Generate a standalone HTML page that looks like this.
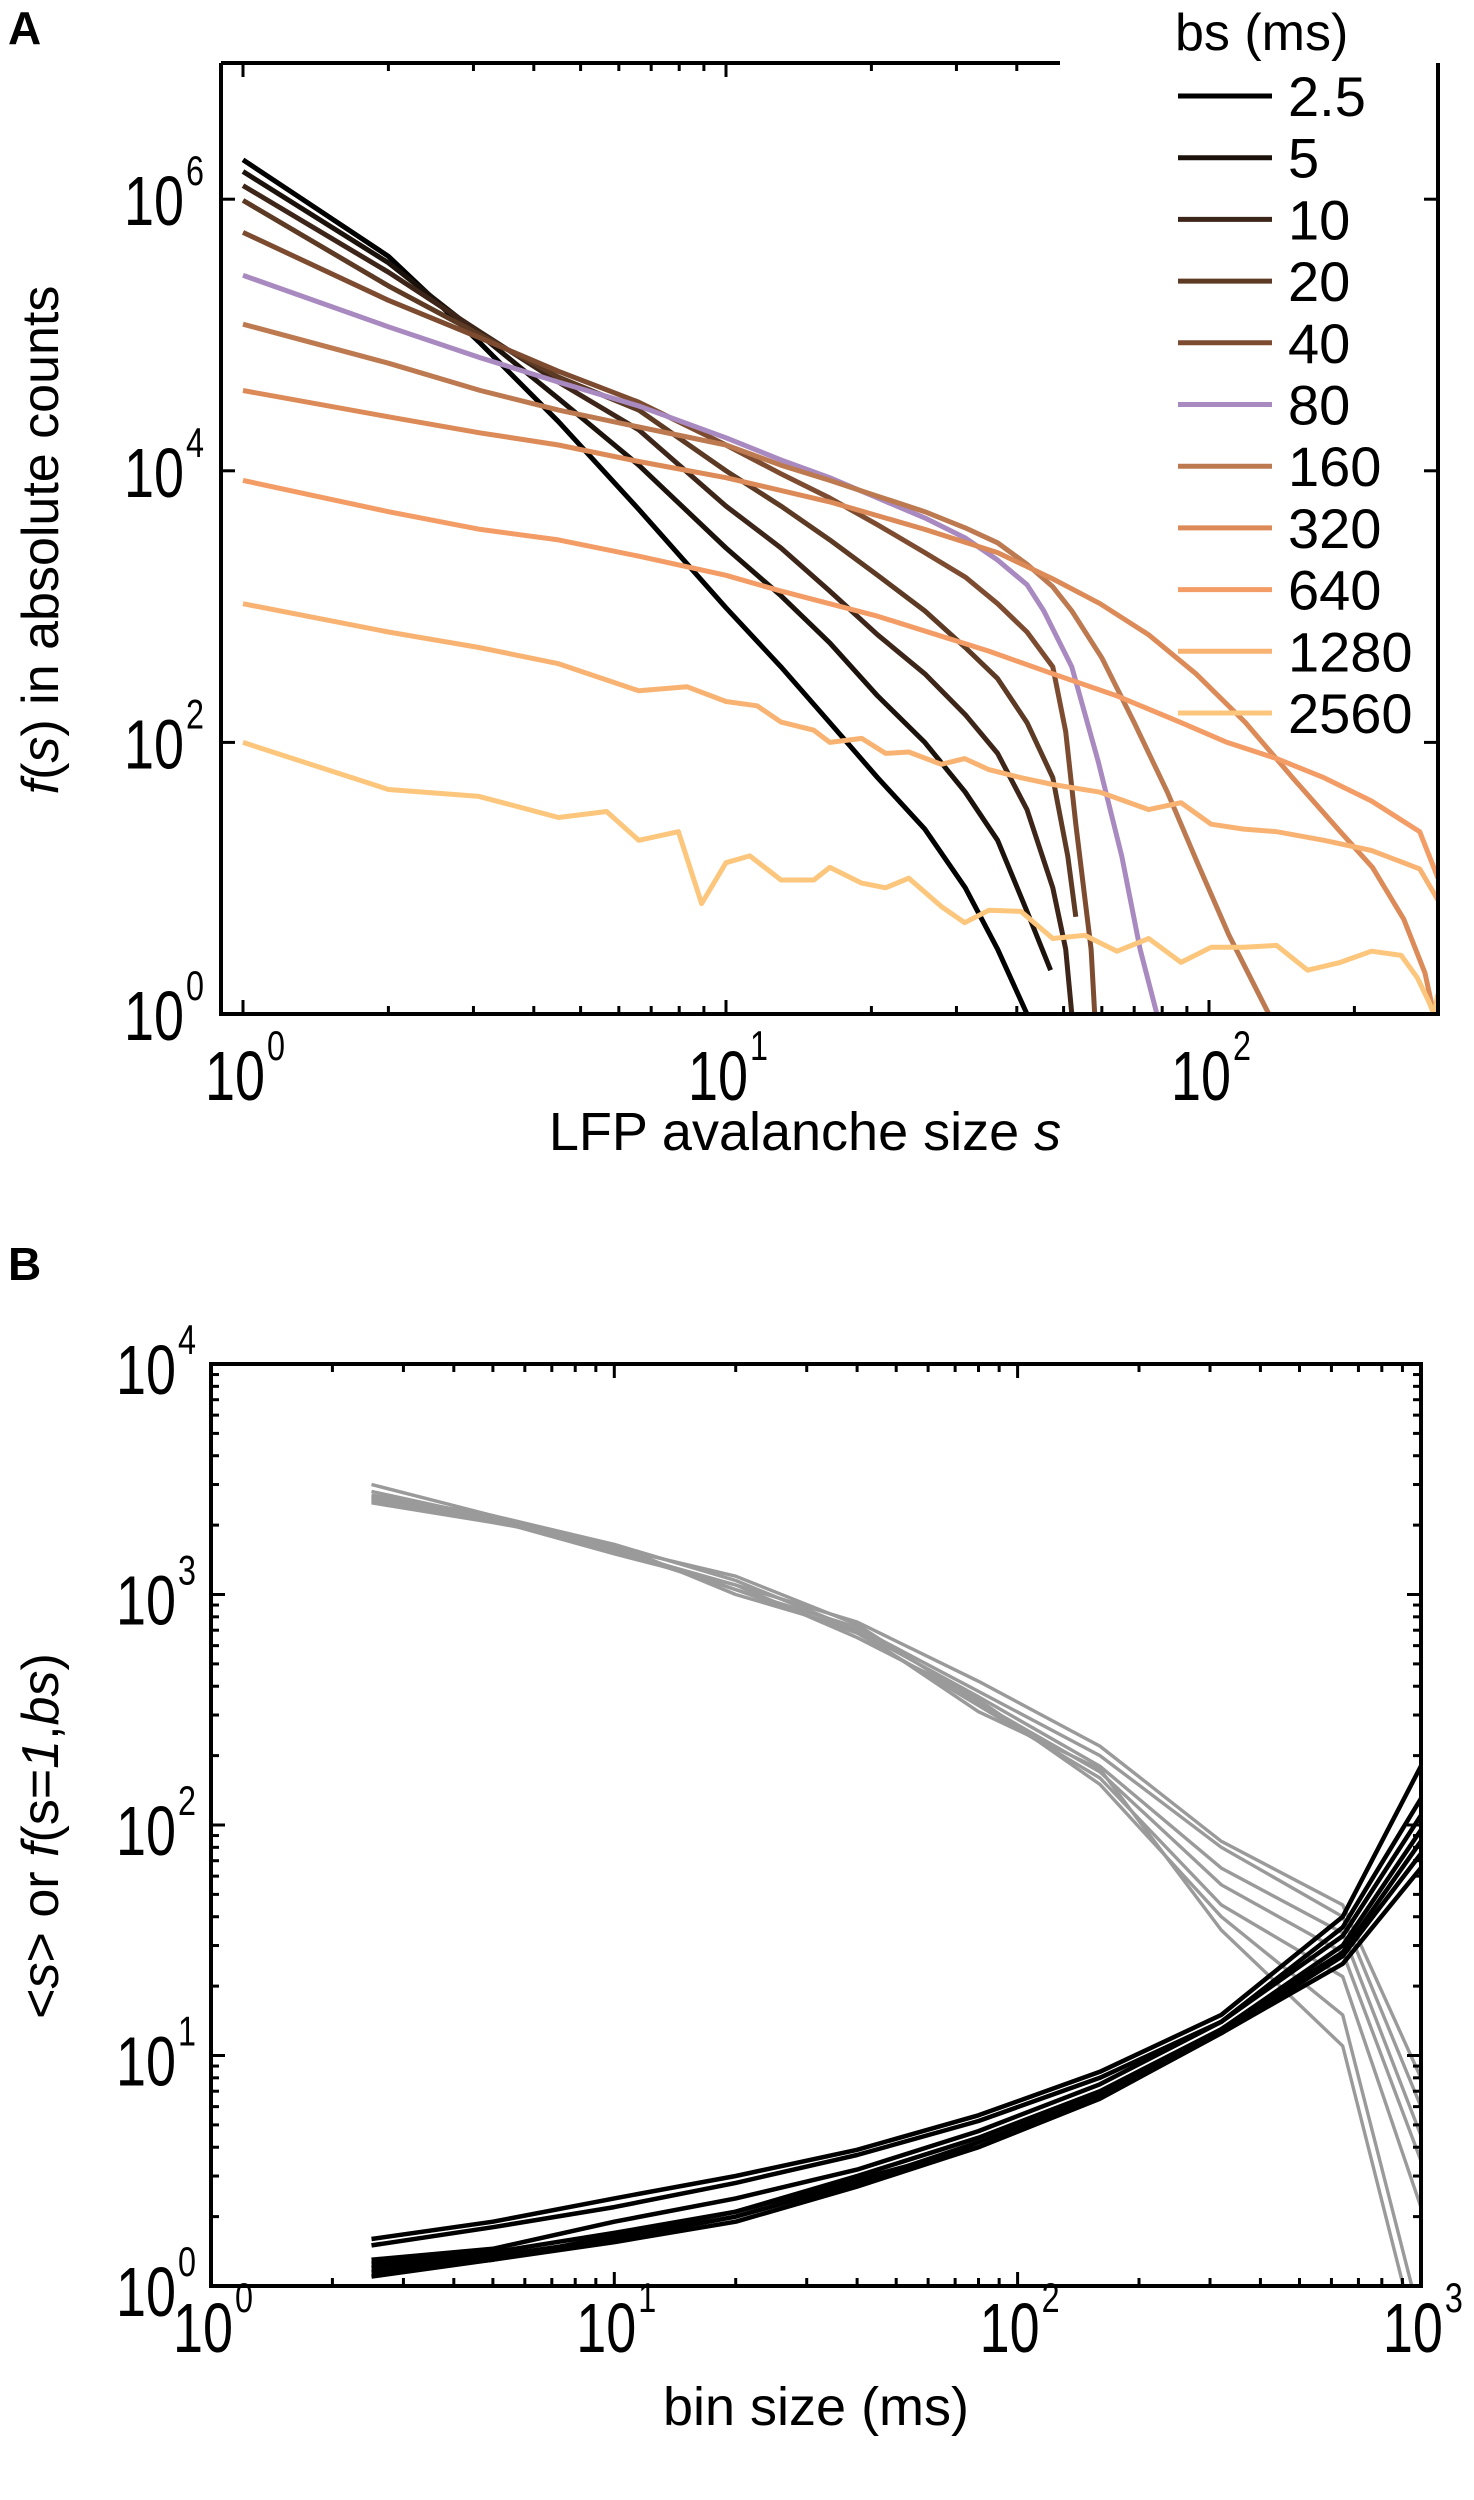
<!DOCTYPE html>
<html><head><meta charset="utf-8">
<style>
html,body{margin:0;padding:0;background:#fff;}
svg{display:block;font-family:"Liberation Sans",Arial,sans-serif;}
</style></head>
<body>
<svg id="fig" width="1474" height="2500" viewBox="0 0 1474 2500" xmlns="http://www.w3.org/2000/svg">
<defs>
<clipPath id="clipA"><rect x="221" y="63" width="1217" height="951"/></clipPath>
<clipPath id="clipB"><rect x="211" y="1364" width="1210" height="922"/></clipPath>
</defs>
<text x="8" y="44" font-size="46" font-weight="bold">A</text>
<text x="8" y="1280" font-size="46" font-weight="bold">B</text>
<g id="panelA"></g>
<g id="panelB"></g>
<text transform="translate(58,540) rotate(-90)" text-anchor="middle" font-size="52"><tspan font-style="italic">f</tspan>(<tspan font-style="italic">s</tspan>) in absolute counts</text>
<text x="805" y="1150" text-anchor="middle" font-size="54">LFP avalanche size <tspan font-style="italic">s</tspan></text>
<text transform="translate(58,1836) rotate(-90)" text-anchor="middle" font-size="52">&lt;<tspan font-style="italic">s</tspan>&gt; or <tspan font-style="italic">f</tspan>(s=<tspan font-style="italic">1</tspan>,<tspan font-style="italic">bs</tspan>)</text>
<text x="816" y="2425" text-anchor="middle" font-size="54">bin size (ms)</text>
</svg>
<script>
// ---------- Panel A data ----------
const binLabels = ["2.5","5","10","20","40","80","160","320","640","1280","2560"];
const seriesColors = ["#000000","#1c120c","#3d2619","#5c3a24","#7d4c30","#a889c0","#bd7a50","#dc8a57","#f39c65","#f8b373","#fcc67c"];
const sA_2_5 = [1,2,3.1,4.5,6.6,10,13,16.4,20.6,25.8,31.3,36.5,42];
const fA_2_5 = [1.95e6,3.8e5,8.7e4,2.3e4,5200,980,360,140,55,23,8.5,3,1];
const sA_5 = [1,2,3.1,4.5,6.6,10,13,16.4,20.6,25.8,31.3,36.5,42,47];
const fA_5 = [1.6e6,3.4e5,1e5,3.4e4,1.1e4,2700,1200,540,220,100,43,19,5.7,2.1];
const sA_10 = [1,2,3.1,4.5,6.6,10,13,16.4,20.6,25.8,31.3,36.5,42,47.5,50.5,52];
const fA_10 = [1.26e6,2.9e5,1.05e5,4.5e4,2e4,5500,2700,1300,620,320,160,83,32,8.5,3,1];
const sA_20 = [1,2,3.1,4.5,6.6,10,13,16.4,20.6,25.8,31.3,36.5,42,47.5,51,53];
const fA_20 = [9.8e5,2.3e5,1e5,4.9e4,2.8e4,1e4,5500,3100,1700,930,500,295,140,55,14.5,5.2];
const sA_40 = [1,2,3.1,4.5,6.6,10,13,16.4,20.6,25.8,31.3,36.5,42,47.5,50.5,53,57,58];
const fA_40 = [5.7e5,1.8e5,9.5e4,5.4e4,3.2e4,1.55e4,9500,6300,4000,2500,1650,1050,650,360,120,25,3,1];
const sA_80 = [1,2,3.1,4.5,6.6,10,13,16.4,20.6,25.8,31.3,36.5,42,45.5,52,59,66,72,78];
const fA_80 = [2.75e5,1.15e5,6.8e4,4.5e4,3e4,1.75e4,1.2e4,8900,6300,4500,3200,2200,1450,930,360,72,14.5,3,1];
const sA_160 = [1,2,3.1,4.5,6.6,10,13,16.4,20.6,25.8,31.3,36.5,42,47.5,52,60,70,82,95,110,133];
const fA_160 = [1.2e5,6.2e4,3.9e4,2.8e4,2.1e4,1.55e4,1.1e4,8500,6500,5000,3800,2950,2050,1400,930,420,140,43,12.6,3.8,1];
const sA_320 = [1,2,3.1,4.5,6.6,10,16.4,25.8,36.5,47.5,59.5,75,94,119,149,187,218,253,280,292];
const fA_320 = [3.9e4,2.5e4,1.9e4,1.55e4,1.17e4,8900,5900,3700,2500,1600,1050,620,320,140,55,22,12,5,2,1];
const sA_640 = [1,2,3.1,4.5,6.6,10,13,20.6,35,47.5,64.5,87.5,109,138,173,217,273,298];
const fA_640 = [8500,5000,3700,3100,2350,1700,1300,850,470,320,220,140,100,76,55,37,22,10];
const sA_1280 = [1,2,3.08,4.5,6.6,8.3,10,11.6,13,15.2,16.4,19.1,21.4,23.9,27.9,31.2,35,40.8,47.5,59.5,75,87.5,101,118,138,173,217,273,298];
const fA_1280 = [1050,650,500,380,240,257,200,186,141,123,100,107,83,85,69,76,63,55,49,43,32,36,25,23,22,19,16,11.7,6.9];
const sA_2560 = [1,2,3.08,4.5,5.66,6.6,7.97,8.9,10,11.2,13,15.2,16.4,19.1,21.4,23.9,27.9,31.2,35,40.8,47.5,55.3,64.5,75,87.5,101,118,138,160,187,217,250,270,285,292,298];
const fA_2560 = [100,45,40,28,31,19,22,6.5,13,14.6,9.7,9.7,12,9.2,8.5,10,6.2,4.7,5.8,5.7,3.6,3.8,2.9,3.6,2.4,3.1,3.1,3.2,2.1,2.4,2.9,2.7,1.85,1.24,1,1.4];
const seriesS = [sA_2_5,sA_5,sA_10,sA_20,sA_40,sA_80,sA_160,sA_320,sA_640,sA_1280,sA_2560];
const seriesF = [fA_2_5,fA_5,fA_10,fA_20,fA_40,fA_80,fA_160,fA_320,fA_640,fA_1280,fA_2560];
const xTicksA = [0,1,2];
const yTicksA = [0,2,4,6];

// ---------- Panel B data ----------
const binSizes = [2.5,5,10,20,40,80,160,320,640,1000];
const grayB1 = [3000,2200,1550,1100,760,420,220,85,45,8];
const grayB2 = [2800,2150,1600,1050,720,380,200,80,40,6];
const grayB3 = [2700,2200,1650,1150,700,360,180,65,34,4.5];
const grayB4 = [2650,2100,1600,1200,740,340,170,55,28,3.5];
const grayB5 = [2600,2150,1550,1050,680,330,160,45,22,2.2];
const grayB6 = [2550,2100,1500,1100,650,350,150,40,15,0.7];
const grayB7 = [2500,2050,1650,1000,700,310,175,35,11,0.5];
const blackB1 = [1.6,1.9,2.4,3.0,3.9,5.5,8.5,15,40,180];
const blackB2 = [1.5,1.8,2.2,2.8,3.7,5.2,8.0,14,36,130];
const blackB3 = [1.3,1.45,1.9,2.4,3.2,4.7,7.5,14,33,110];
const blackB4 = [1.25,1.4,1.7,2.1,3.0,4.4,7.0,13,30,95];
const blackB5 = [1.2,1.35,1.6,2.0,2.8,4.2,6.7,13,28,85];
const blackB6 = [1.15,1.3,1.65,2.1,2.9,4.0,6.5,12.5,27,75];
const blackB7 = [1.1,1.3,1.55,1.9,2.7,4.0,6.5,12.5,25,65];
const grayB = [grayB1,grayB2,grayB3,grayB4,grayB5,grayB6,grayB7];
const blackB = [blackB1,blackB2,blackB3,blackB4,blackB5,blackB6,blackB7];
const xTicksB = [0,1,2,3];
const yTicksB = [0,1,2,3,4];

const NS = "http://www.w3.org/2000/svg";
function mk(tag, attrs, parent){const e=document.createElementNS(NS,tag);for(const k in attrs)e.setAttribute(k,attrs[k]);parent.appendChild(e);return e;}

const A = {x0:243, dx:483, y0:1014, dy:135.8, left:221, right:1438, top:63, bottom:1014};
const B = {x0:211, dx:403.3, y0:2286, dy:230.5, left:211, right:1421, top:1364, bottom:2286};
function xA(v){return A.x0 + A.dx*Math.log10(v);}
function yA(v){return A.y0 - A.dy*Math.log10(v);}
function xB(v){return B.x0 + B.dx*Math.log10(v);}
function yB(v){return B.y0 - B.dy*Math.log10(v);}

function tickLabel(g, xEnd, y, exp, name){
  const t = mk('text',{x:xEnd,y:y,'font-size':70,'text-anchor':'end',textLength:60,lengthAdjust:'spacingAndGlyphs'},g);
  t.textContent='10';
  
  
  const s = mk('text',{x:xEnd+2,y:y-40,'font-size':42,textLength:18,lengthAdjust:'spacingAndGlyphs'},g);
  s.textContent=String(exp);
  
  
}

// ---------- Panel A ----------
const gA = document.getElementById('panelA');
const linesA = mk('g',{'clip-path':'url(#clipA)'},gA);
for(let i=0;i<seriesS.length;i++){
  const pts = seriesS[i].map((s,j)=>xA(s).toFixed(1)+','+yA(seriesF[i][j]).toFixed(1)).join(' ');
  const pl = mk('polyline',{points:pts,fill:'none',stroke:seriesColors[i],'stroke-width':5,'stroke-linejoin':'round'},linesA);
  
  
}
const fr = mk('path',{d:`M${A.left},${A.top} V${A.bottom} H${A.right} V${A.top} M${A.left},${A.top} H1060`,fill:'none',stroke:'#000','stroke-width':4},gA);


const maxLogA = (A.right-A.x0)/A.dx;
for(let d=0; d<3; d++){
  for(let m=1;m<10;m++){
    const v=m*Math.pow(10,d);
    if(Math.log10(v)>maxLogA) continue;
    const x=xA(v); const len = m===1?14:8;
    mk('line',{x1:x,y1:A.bottom,x2:x,y2:A.bottom-len,stroke:'#000','stroke-width':3},gA);
    if(x<1060) mk('line',{x1:x,y1:A.top,x2:x,y2:A.top+len,stroke:'#000','stroke-width':3},gA);
  }
}
xTicksA.forEach(e=>{ tickLabel(gA, xA(Math.pow(10,e))+22, 1100, e, 'x-tick-a-'+e); });
yTicksA.forEach(e=>{
  const y=yA(Math.pow(10,e));
  mk('line',{x1:A.left,y1:y,x2:A.left+14,y2:y,stroke:'#000','stroke-width':3},gA);
  mk('line',{x1:A.right,y1:y,x2:A.right-14,y2:y,stroke:'#000','stroke-width':3},gA);
  tickLabel(gA, 184, y+26, e, 'y-tick-a-'+e);
});
const lg = mk('g',{},gA);


const lt = mk('text',{x:1175,y:50,'font-size':52},lg);
lt.textContent='bs (ms)';


for(let i=0;i<binLabels.length;i++){
  const y = 96 + 61.7*i;
  const ln = mk('line',{x1:1178,y1:y,x2:1272,y2:y,stroke:seriesColors[i],'stroke-width':5},lg);
  
  
  const t = mk('text',{x:1288,y:y+20,'font-size':56},lg);
  t.textContent=binLabels[i];
  
  
}

// ---------- Panel B ----------
const gB = document.getElementById('panelB');
const linesB = mk('g',{'clip-path':'url(#clipB)'},gB);
grayB.forEach((arr,i)=>{
  const pts = binSizes.map((b,j)=>xB(b).toFixed(1)+','+yB(arr[j]).toFixed(1)).join(' ');
  const pl = mk('polyline',{points:pts,fill:'none',stroke:'#9a9a9a','stroke-width':3.4,'stroke-linejoin':'round'},linesB);
  
  
});
blackB.forEach((arr,i)=>{
  const pts = binSizes.map((b,j)=>xB(b).toFixed(1)+','+yB(arr[j]).toFixed(1)).join(' ');
  const pl = mk('polyline',{points:pts,fill:'none',stroke:'#000','stroke-width':4.5,'stroke-linejoin':'round'},linesB);
  
  
});
const frB = mk('rect',{x:B.left,y:B.top,width:B.right-B.left,height:B.bottom-B.top,fill:'none',stroke:'#000','stroke-width':4},gB);


for(let d=0; d<3; d++){
  for(let m=1;m<10;m++){
    const x=xB(m*Math.pow(10,d)); const len=m===1?14:8;
    mk('line',{x1:x,y1:B.bottom,x2:x,y2:B.bottom-len,stroke:'#000','stroke-width':3},gB);
    mk('line',{x1:x,y1:B.top,x2:x,y2:B.top+len,stroke:'#000','stroke-width':3},gB);
  }
}
for(let d=0; d<4; d++){
  for(let m=1;m<10;m++){
    const y=yB(m*Math.pow(10,d)); const len=m===1?14:8;
    mk('line',{x1:B.left,y1:y,x2:B.left+len,y2:y,stroke:'#000','stroke-width':3},gB);
    mk('line',{x1:B.right,y1:y,x2:B.right-len,y2:y,stroke:'#000','stroke-width':3},gB);
  }
}
xTicksB.forEach(e=>{ tickLabel(gB, xB(Math.pow(10,e))+22, 2352, e, 'x-tick-b-'+e); });
yTicksB.forEach(e=>{ tickLabel(gB, 176, yB(Math.pow(10,e))+30, e, 'y-tick-b-'+e); });
</script>
</body></html>
